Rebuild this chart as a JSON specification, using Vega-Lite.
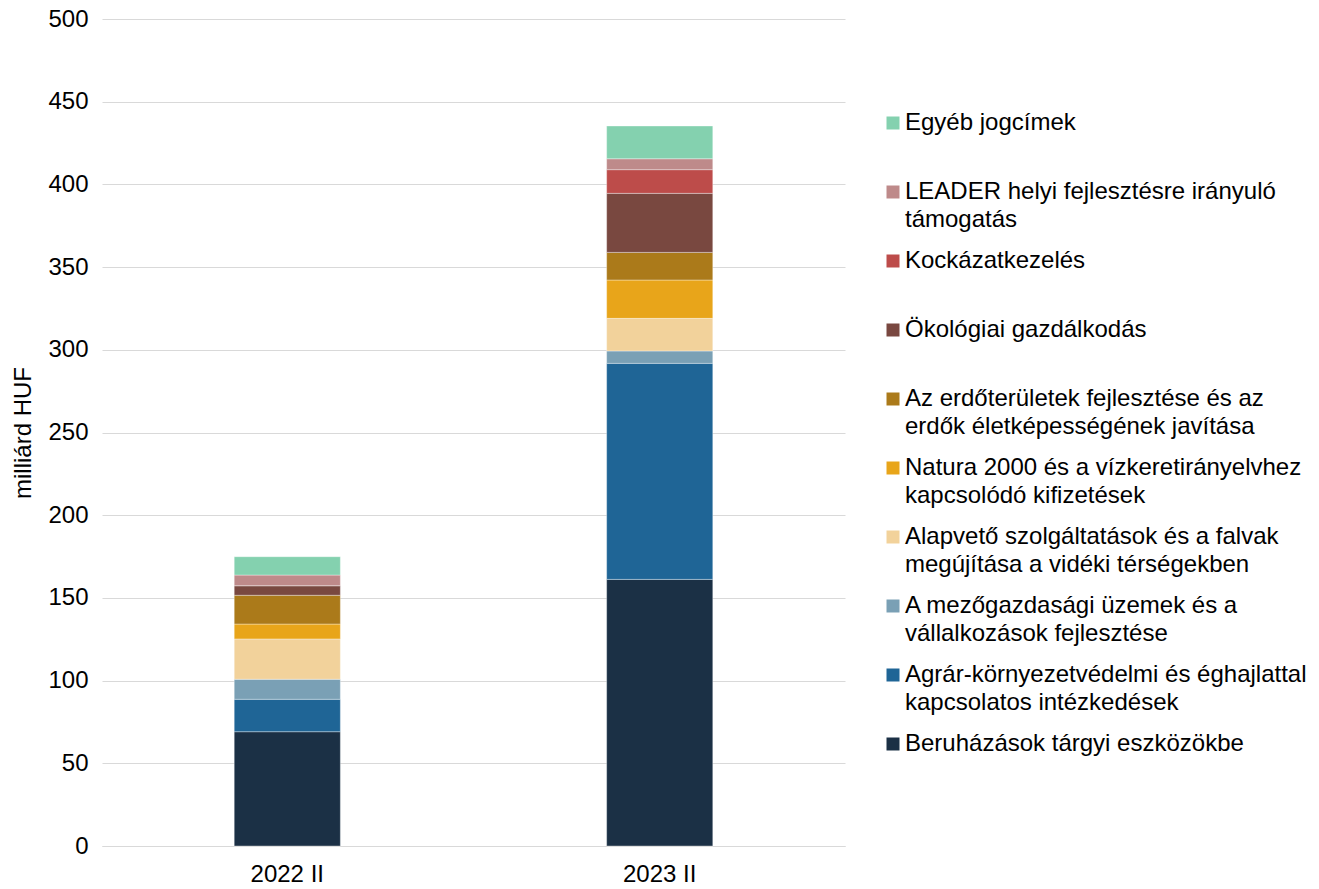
{
  "$schema": "https://vega.github.io/schema/vega-lite/v6.json",
  "background": "white",
  "padding": {"top": 7, "left": 11, "right": 0, "bottom": 0},
  "spacing": 38,
  "bounds": "flush",
  "config": {
    "view": {"stroke": null},
    "font": "Liberation Sans",
    "text": {"font": "Liberation Sans"}
  },
  "datasets": {
    "values": [
      {"period": "2022 II", "rank": 1, "category": "Beruházások tárgyi eszközökbe", "value": 69.1},
      {"period": "2022 II", "rank": 2, "category": "Agrár-környezetvédelmi és éghajlattal kapcsolatos intézkedések", "value": 19.6},
      {"period": "2022 II", "rank": 3, "category": "A mezőgazdasági üzemek és a vállalkozások fejlesztése", "value": 12.1},
      {"period": "2022 II", "rank": 4, "category": "Alapvető szolgáltatások és a falvak megújítása a vidéki térségekben", "value": 24.4},
      {"period": "2022 II", "rank": 5, "category": "Natura 2000 és a vízkeretirányelvhez kapcsolódó kifizetések", "value": 9.0},
      {"period": "2022 II", "rank": 6, "category": "Az erdőterületek fejlesztése és az erdők életképességének javítása", "value": 17.4},
      {"period": "2022 II", "rank": 7, "category": "Ökológiai gazdálkodás", "value": 5.8},
      {"period": "2022 II", "rank": 8, "category": "Kockázatkezelés", "value": 0},
      {"period": "2022 II", "rank": 9, "category": "LEADER helyi fejlesztésre irányuló támogatás", "value": 6.4},
      {"period": "2022 II", "rank": 10, "category": "Egyéb jogcímek", "value": 11.1},
      {"period": "2023 II", "rank": 1, "category": "Beruházások tárgyi eszközökbe", "value": 161.2},
      {"period": "2023 II", "rank": 2, "category": "Agrár-környezetvédelmi és éghajlattal kapcsolatos intézkedések", "value": 130.6},
      {"period": "2023 II", "rank": 3, "category": "A mezőgazdasági üzemek és a vállalkozások fejlesztése", "value": 7.5},
      {"period": "2023 II", "rank": 4, "category": "Alapvető szolgáltatások és a falvak megújítása a vidéki térségekben", "value": 19.7},
      {"period": "2023 II", "rank": 5, "category": "Natura 2000 és a vízkeretirányelvhez kapcsolódó kifizetések", "value": 23.2},
      {"period": "2023 II", "rank": 6, "category": "Az erdőterületek fejlesztése és az erdők életképességének javítása", "value": 16.7},
      {"period": "2023 II", "rank": 7, "category": "Ökológiai gazdálkodás", "value": 35.7},
      {"period": "2023 II", "rank": 8, "category": "Kockázatkezelés", "value": 14.3},
      {"period": "2023 II", "rank": 9, "category": "LEADER helyi fejlesztésre irányuló támogatás", "value": 6.6},
      {"period": "2023 II", "rank": 10, "category": "Egyéb jogcímek", "value": 19.8}
    ],
    "legend": [
      {"category": "Egyéb jogcímek", "label": "Egyéb jogcímek"},
      {"category": "LEADER helyi fejlesztésre irányuló támogatás", "label": "LEADER helyi fejlesztésre irányuló\ntámogatás"},
      {"category": "Kockázatkezelés", "label": "Kockázatkezelés"},
      {"category": "Ökológiai gazdálkodás", "label": "Ökológiai gazdálkodás"},
      {"category": "Az erdőterületek fejlesztése és az erdők életképességének javítása", "label": "Az erdőterületek fejlesztése és az\nerdők életképességének javítása"},
      {"category": "Natura 2000 és a vízkeretirányelvhez kapcsolódó kifizetések", "label": "Natura 2000 és a vízkeretirányelvhez\nkapcsolódó kifizetések"},
      {"category": "Alapvető szolgáltatások és a falvak megújítása a vidéki térségekben", "label": "Alapvető szolgáltatások és a falvak\nmegújítása a vidéki térségekben"},
      {"category": "A mezőgazdasági üzemek és a vállalkozások fejlesztése", "label": "A mezőgazdasági üzemek és a\nvállalkozások fejlesztése"},
      {"category": "Agrár-környezetvédelmi és éghajlattal kapcsolatos intézkedések", "label": "Agrár-környezetvédelmi és éghajlattal\nkapcsolatos intézkedések"},
      {"category": "Beruházások tárgyi eszközökbe", "label": "Beruházások tárgyi eszközökbe"}
    ]
  },
  "hconcat": [
    {
      "width": 743,
      "height": 827,
      "data": {"name": "values"},
      "mark": {"type": "bar", "stroke": "white", "strokeWidth": 0.6, "strokeOpacity": 0.6},
      "encoding": {
        "x": {
          "field": "period",
          "type": "nominal",
          "scale": {"paddingInner": 0.715, "paddingOuter": 0.355},
          "axis": {
            "title": null,
            "labelAngle": 0,
            "labelFontSize": 24,
            "labelColor": "#000000",
            "labelPadding": 16,
            "ticks": false,
            "domainColor": "#d9d9d9",
            "domainWidth": 1
          }
        },
        "y": {
          "field": "value",
          "type": "quantitative",
          "stack": "zero",
          "scale": {"domain": [0, 500], "nice": false},
          "axis": {
            "title": "milliárd HUF",
            "titleFontSize": 24,
            "titleFontWeight": "normal",
            "titleColor": "#000000",
            "titlePadding": 12,
            "values": [0, 50, 100, 150, 200, 250, 300, 350, 400, 450, 500],
            "labelFontSize": 24,
            "labelColor": "#000000",
            "labelPadding": 14,
            "ticks": false,
            "domain": false,
            "gridColor": "#d9d9d9",
            "gridWidth": 1
          }
        },
        "order": {"field": "rank", "type": "quantitative", "sort": "ascending"},
        "color": {
          "field": "category",
          "type": "nominal",
          "scale": {
            "domain": [
              "Beruházások tárgyi eszközökbe",
              "Agrár-környezetvédelmi és éghajlattal kapcsolatos intézkedések",
              "A mezőgazdasági üzemek és a vállalkozások fejlesztése",
              "Alapvető szolgáltatások és a falvak megújítása a vidéki térségekben",
              "Natura 2000 és a vízkeretirányelvhez kapcsolódó kifizetések",
              "Az erdőterületek fejlesztése és az erdők életképességének javítása",
              "Ökológiai gazdálkodás",
              "Kockázatkezelés",
              "LEADER helyi fejlesztésre irányuló támogatás",
              "Egyéb jogcímek"
            ],
            "range": ["#1b3045", "#1f6596", "#7aa0b5", "#f2d29b", "#e8a51a", "#ab7a1a", "#794840", "#bd4c4a", "#be8a8a", "#84d1af"]
          },
          "legend": null
        }
      }
    },
    {
      "width": 20,
      "height": 827,
      "data": {"name": "legend"},
      "encoding": {
        "y": {
          "field": "category",
          "type": "nominal",
          "sort": null,
          "scale": {"type": "point", "range": [104, 725], "padding": 0},
          "axis": null
        }
      },
      "layer": [
        {
          "mark": {"type": "square", "size": 169, "filled": true, "opacity": 1},
          "encoding": {
            "color": {"field": "category", "type": "nominal", "legend": null}
          }
        },
        {
          "mark": {
            "type": "text",
            "align": "left",
            "baseline": "middle",
            "dx": 12,
            "fontSize": 24,
            "lineHeight": 28,
            "lineBreak": "\n",
            "color": "#000000"
          },
          "encoding": {
            "text": {"field": "label", "type": "nominal"}
          }
        }
      ]
    }
  ],
  "resolve": {"scale": {"color": "shared", "y": "independent"}}
}
